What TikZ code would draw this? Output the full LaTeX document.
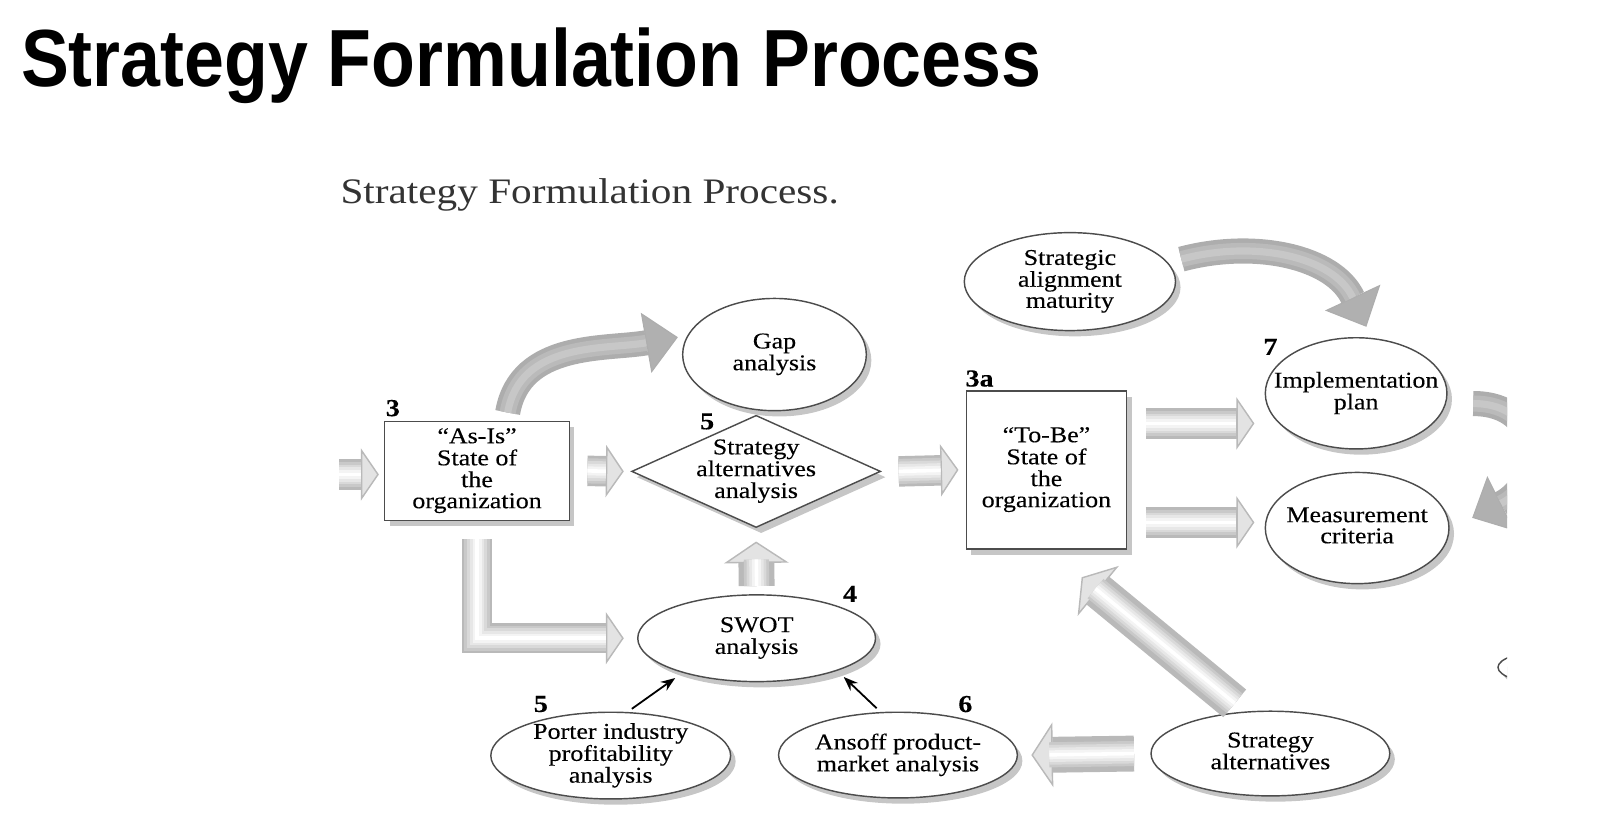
\documentclass[tikz,border=0pt]{standalone}
\usepackage{fontspec}
\setmainfont{Liberation Serif}
\newfontfamily\headfont[FakeStretch=0.885]{Liberation Sans}
\newfontfamily\figfont[FakeStretch=1.15,FakeBold=0.25]{Liberation Serif}
\newfontfamily\capfont[FakeStretch=1.15]{Liberation Serif}
\usepackage{tikz}
\usetikzlibrary{arrows.meta,positioning,calc,shapes.geometric,shadows}

\newcommand{\olbl}[1]{\makebox[0pt]{\smash{\raisebox{-1.6pt}{\begin{tabular}{@{}c@{}}#1\end{tabular}}}}}

\begin{document}
\begin{tikzpicture}[
  font=\figfont\fontsize{6.3}{5.7}\selectfont,
  box/.style={draw=black!70, fill=white, align=center, inner sep=0pt,
    drop shadow={shadow xshift=1.4pt, shadow yshift=-1.6pt, fill=black!50, opacity=0.45}},
  oval/.style={box, ellipse},
  num/.style={font=\figfont\bfseries\fontsize{6.8}{7}\selectfont, inner sep=0pt},
  fat/.style={draw=gray!55, line width=8.5pt, line join=miter,
    -{Triangle[length=5pt, width=14.5pt, line width=0.4pt, color=gray!55, fill=gray!22]},
    postaction={draw=gray!42, line width=7pt, -, shorten >=5pt},
    postaction={draw=gray!30, line width=5.5pt, -, shorten >=5pt},
    postaction={draw=gray!19, line width=4pt, -, shorten >=5pt},
    postaction={draw=gray!9, line width=2.5pt, -, shorten >=5pt},
    postaction={draw=white, line width=1pt, -, shorten >=5pt}},
  fatbig/.style={fat, line width=10pt,
    -{Triangle[length=6pt, width=18pt, line width=0.4pt, color=gray!55, fill=gray!22]}},
  swoosh/.style={draw=gray!64, line width=7pt,
    -{Triangle[length=9pt, width=17pt, line width=0.3pt, color=gray!64, fill=gray!62]},
    postaction={draw=gray!54, line width=4.5pt, -, shorten >=9pt},
    postaction={draw=gray!44, line width=2pt, -, shorten >=9pt}},
  thinarr/.style={-{Stealth[length=4pt, width=3pt]}, line width=0.5pt}
]
\useasboundingbox (0,0) rectangle (15.68,7.98);

\node[anchor=base west, inner sep=0pt, font=\headfont\bfseries\fontsize{22.6}{27}\selectfont]
  (title) at (0.20,7.13) {Strategy Formulation Process};
\node[anchor=base west, inner sep=0pt, text=black!80, font=\capfont\fontsize{10}{12}\selectfont]
  (sub) at (3.33,5.99) {Strategy Formulation Process.};

\node[box, minimum width=1.81cm, minimum height=0.97cm] (asis) at (4.675,3.365)
  {\olbl{“As-Is”\\State of\\the\\organization}};
\node[box, diamond, minimum width=2.44cm, minimum height=1.10cm] (alt) at (7.41,3.36)
  {\olbl{Strategy\\alternatives\\analysis}};
\node[oval, minimum width=1.80cm, minimum height=1.10cm] (gap) at (7.59,4.505)
  {\olbl{Gap\\analysis}};
\node[oval, minimum width=2.33cm, minimum height=0.85cm] (swot) at (7.415,1.725)
  {\olbl{SWOT\\analysis}};
\node[oval, minimum width=2.35cm, minimum height=0.85cm] (porter) at (5.985,0.575)
  {\olbl{Porter industry\\profitability\\analysis}};
\node[oval, minimum width=2.34cm, minimum height=0.84cm] (ansoff) at (8.80,0.58)
  {\olbl{Ansoff product-\\market analysis}};
\node[oval, minimum width=2.34cm, minimum height=0.83cm] (stralt) at (12.45,0.595)
  {\olbl{Strategy\\alternatives}};
\node[box, minimum width=1.57cm, minimum height=1.55cm] (tobe) at (10.255,3.375)
  {\olbl{“To-Be”\\State of\\the\\organization}};
\node[oval, minimum width=2.07cm, minimum height=0.96cm] (salign) at (10.485,5.22)
  {\olbl{Strategic\\alignment\\maturity}};
\node[oval, minimum width=1.78cm, minimum height=1.09cm] (impl) at (13.29,4.125)
  {\olbl{Implementation\\plan}};
\node[oval, minimum width=1.80cm, minimum height=1.09cm] (meas) at (13.30,2.805)
  {\olbl{Measurement\\criteria}};

\node[num] (n3) at (3.85,3.98) {3};
\node[num] (n5) at (6.93,3.85) {5};
\node[num] (n3a) at (9.60,4.27) {3a};
\node[num] (n7) at (12.45,4.58) {7};
\node[num] (n4) at (8.33,2.16) {4};
\node[num] (n5b) at (5.30,1.08) {5};
\node[num] (n6) at (9.46,1.08) {6};

\draw[fat] ([xshift=-0.44cm,yshift=-0.035cm]asis.west) -- ([xshift=-0.05cm,yshift=-0.035cm]asis.west);
\draw[fat] ([xshift=0.17cm]asis.east) -- ([xshift=-0.07cm]alt.west);
\draw[fat] ([xshift=0.17cm]alt.east) -- ([xshift=-0.07cm]tobe.west);
\draw[fat] ([xshift=0.18cm,yshift=0.455cm]tobe.east) -- ($(tobe.east -| impl.west)+(-0.10,0.455)$);
\draw[fat] ([xshift=0.18cm,yshift=-0.515cm]tobe.east) -- ($(tobe.east -| meas.west)+(-0.10,-0.515)$);
\draw[fat] ([yshift=-0.18cm]asis.south) |- ([xshift=-0.13cm]swot.west);
\draw[fatbig] ([yshift=0.08cm]swot.north) -- ([yshift=-0.13cm]alt.south);
\draw[fatbig] ([xshift=-0.16cm]stralt.west) -- ([xshift=0.13cm]ansoff.east);
\draw[fatbig] ([xshift=-0.35cm,yshift=0.07cm]stralt.north) -- ($(tobe.south)+(0.345,-0.27)$);

\draw[swoosh] ([xshift=0.30cm,yshift=0.08cm]asis.north) to[out=80,in=190] ([xshift=-0.04cm,yshift=0.17cm]gap.west);
\draw[swoosh] ([xshift=0.05cm,yshift=0.22cm]salign.east) to[out=15,in=115] ([xshift=0.10cm,yshift=0.10cm]impl.north);

\begin{scope}
\clip (0,0) rectangle (14.77,7.98);
\draw[swoosh] ([xshift=0.25cm,yshift=-0.10cm]impl.east) .. controls +(0.7,0) and +(0.7,0.35) .. ([xshift=0.22cm,yshift=0.10cm]meas.east);
\node[oval, minimum width=1.0cm, minimum height=0.32cm] (cut) at (15.18,1.44) {};
\end{scope}

\draw[thinarr, shorten <=1.5pt, shorten >=2.5pt] (porter.69) -- (swot.205);
\draw[thinarr, shorten <=1.5pt, shorten >=2.5pt] (ansoff.112) -- (swot.338);
\end{tikzpicture}
\end{document}
